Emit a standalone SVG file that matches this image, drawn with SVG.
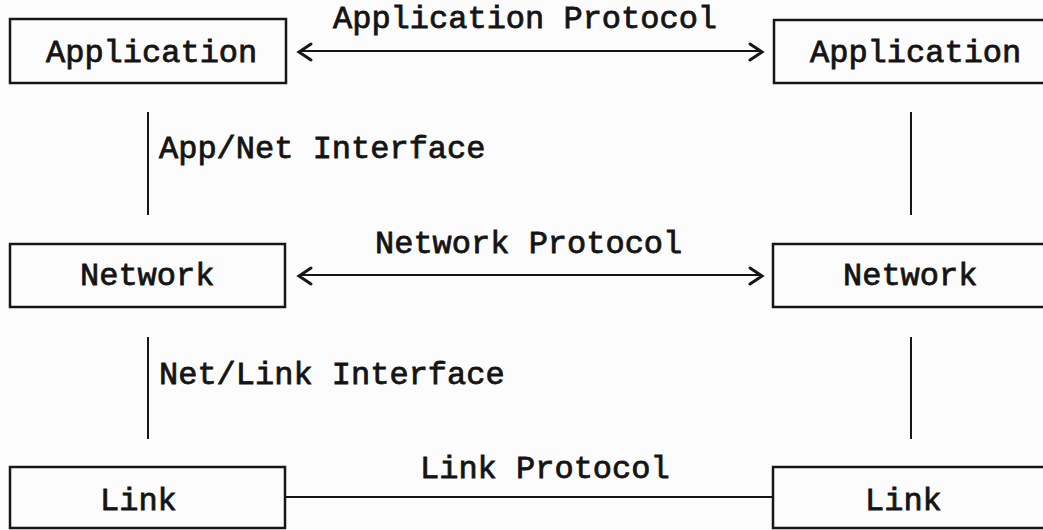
<svg xmlns="http://www.w3.org/2000/svg" width="1043" height="530" viewBox="0 0 1043 530">
  <style>
    .box { fill: none; stroke: #161616; stroke-width: 2.5; }
    .wire { fill: none; stroke: #161616; stroke-width: 2; }
    .head { fill: none; stroke: #161616; stroke-width: 3; stroke-linejoin: miter; stroke-linecap: round; }
    text { font-family: "Liberation Mono", "Courier New", monospace; font-size: 32px; fill: #141414; stroke: #141414; stroke-width: 0.8; }
  </style>
  <rect width="1043" height="530" fill="#fcfcfc"/>

  <!-- peer-to-peer protocol connectors and layer interfaces -->
  <g id="connectors">
    <line class="wire" x1="302" y1="51" x2="759" y2="51"/>
    <polyline class="head" points="311,44 299,52 311,60"/>
    <polyline class="head" points="750,44 762,52 750,60"/>
    <text x="333" y="28">Application Protocol</text>

    <line class="wire" x1="302" y1="275" x2="759" y2="275"/>
    <polyline class="head" points="311,268 299,276 311,284"/>
    <polyline class="head" points="750,268 762,276 750,284"/>
    <text x="375" y="253">Network Protocol</text>

    <line class="wire" x1="286" y1="497" x2="773" y2="497"/>
    <text x="420" y="478">Link Protocol</text>

    <line class="wire" x1="148" y1="112" x2="148" y2="215"/>
    <text x="159" y="158">App/Net Interface</text>
    <line class="wire" x1="148" y1="337" x2="148" y2="439"/>
    <text x="159" y="384">Net/Link Interface</text>

    <line class="wire" x1="911" y1="112" x2="911" y2="215"/>
    <line class="wire" x1="911" y1="337" x2="911" y2="439"/>
  </g>

  <!-- left stack -->
  <g id="app-left">
    <rect class="box" x="10" y="19" width="276" height="64"/>
    <text x="46" y="62">Application</text>
  </g>
  <g id="net-left">
    <rect class="box" x="10" y="244" width="275" height="63"/>
    <text x="80" y="285">Network</text>
  </g>
  <g id="link-left">
    <rect class="box" x="10" y="467" width="275" height="61"/>
    <text x="100" y="510">Link</text>
  </g>

  <!-- right stack (boxes run off the right edge) -->
  <g id="app-right">
    <rect class="box" x="774" y="20" width="290" height="63"/>
    <text x="810" y="62">Application</text>
  </g>
  <g id="net-right">
    <rect class="box" x="773" y="244" width="290" height="63"/>
    <text x="843" y="285">Network</text>
  </g>
  <g id="link-right">
    <rect class="box" x="773" y="467" width="290" height="61"/>
    <text x="865" y="510">Link</text>
  </g>
</svg>
